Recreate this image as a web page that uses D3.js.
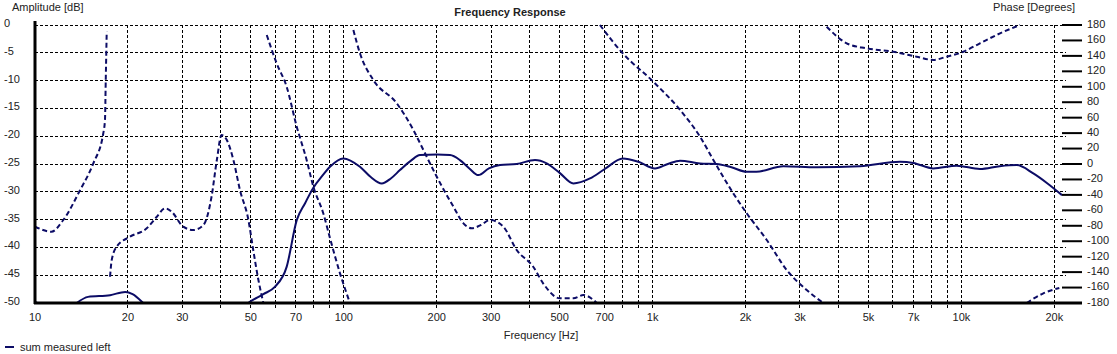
<!DOCTYPE html>
<html><head><meta charset="utf-8">
<script src="https://cdn.jsdelivr.net/npm/d3@7/dist/d3.min.js"></script>
<style>
body{margin:0;background:#fff;}
text{font-family:"Liberation Sans",Arial,sans-serif;font-size:11px;fill:#222;}
</style></head><body>
<svg id="c" width="1117" height="354"></svg>
<script>
// Amplitude (solid, left axis, dB) — [freq Hz, dB]
const ampFreq = [10, 11, 12, 13, 13.65, 14.85, 17.5, 19.6, 20.7, 22.4, 25, 30, 40, 49, 54.9, 59.8, 65.3, 70.4, 75, 79.6, 85, 90.2, 99.6, 112.8, 122, 132.7, 142, 152, 165, 176.5, 200, 220.8, 237.7, 255, 272.7, 295, 320.5, 363, 416, 454, 500, 554, 627, 700, 800, 900, 1018, 1120, 1227, 1424, 1613, 1800, 2017, 2168, 2650, 3399, 4695, 6326, 6988, 8110, 9654, 11481, 13300, 15098, 17090, 19000, 21170];
const ampDb   = [-49.8, -51, -52.5, -51, -50, -48.9, -48.6, -48.0, -48.4, -50, -53, -56, -55, -50, -48.4, -47.1, -43.5, -35.1, -32, -29.3, -27.2, -25.5, -24.0, -25.5, -27.3, -28.5, -27.6, -26.1, -24.4, -23.4, -23.3, -23.4, -24.3, -25.8, -27.0, -25.8, -25.2, -25.0, -24.3, -24.9, -26.6, -28.5, -27.6, -25.9, -24.0, -24.6, -25.8, -25.0, -24.4, -24.9, -25.0, -25.6, -26.4, -26.4, -25.4, -25.6, -25.4, -24.6, -24.8, -25.8, -25.3, -25.9, -25.4, -25.2, -26.7, -28.5, -30.6];

// Phase (dashed, right axis, degrees) — wrapped segments
const phaseSegFreq = [
  [10, 11.3, 12.35, 14.0, 15.45, 16.64, 16.85, 16.95, 17.07],
  [17.5, 17.72, 18.39, 20.3, 23.0, 24.8, 26.36, 27.7, 30.2, 32.55, 35.1, 37.3, 38.8, 40.2, 41.8, 43.9, 46.1, 49.1, 50.9, 52.9, 54.9],
  [56.3, 60.6, 65.3, 70.4, 75.8, 79.7, 85.8, 90.2, 97.2, 104.7],
  [107.4, 112.8, 124.6, 148.4, 168, 181, 200, 226.4, 244, 259.5, 278, 297.4, 328.6, 363, 410.5, 442, 501, 554, 597, 643, 660],
  [675, 800, 1005, 1227, 1424, 1573, 1825, 2017, 2342, 2718, 3155, 3571],
  [3661, 4250, 4934, 6017, 7161, 8110, 8962, 10146, 11481, 13336, 15480],
  [16270, 18420, 20750]
];
const phaseSegDeg = [
  [-81, -87.7, -72.5, -33.7, 0.9, 39.8, 57, 110, 171.3],
  [-146, -124.3, -107.1, -94.2, -83.3, -68.3, -57.4, -61.8, -81.2, -85.5, -79, -42.4, 5.2, 37.5, 31.1, 5.2, -33.7, -72.5, -111.4, -150.2, -180],
  [167, 130.4, 100.1, 48.3, 5.2, -29.4, -63.8, -96, -141.6, -180],
  [173.5, 143.4, 108.8, 78.6, 44, 18.1, -16.5, -55.3, -76.8, -83.3, -79, -72.5, -81.2, -111.4, -133, -154.5, -173.9, -173.9, -169.7, -176, -180],
  [180, 143.4, 106.6, 70, 35.4, 5.2, -38, -63.8, -98.4, -137.3, -163.2, -180],
  [177.8, 156.3, 149.8, 145.4, 139, 134.7, 139, 145.4, 156.3, 169.2, 180],
  [-180, -167.5, -160.5]
];

const gridFreqs = [20,30,40,50,60,70,80,90,100,200,300,400,500,600,700,800,900,1000,2000,3000,4000,5000,6000,7000,8000,9000,10000,20000];
const xTickVals = [10,20,30,50,70,100,200,300,500,700,1000,2000,3000,5000,7000,10000,20000];
const xTickLabels = ["10","20","30","50","70","100","200","300","500","700","1k","2k","3k","5k","7k","10k","20k"];
const dbTicks = [0,-5,-10,-15,-20,-25,-30,-35,-40,-45,-50];
const phaseTicks = [180,160,140,120,100,80,60,40,20,0,-20,-40,-60,-80,-100,-120,-140,-160,-180];

const col = "#0c0c66";
const svg = d3.select("#c");
const L = 35, R = 1062, T = 25, B = 303;
const x = d3.scaleLog().domain([10, 21170]).range([L, R]);
const y = d3.scaleLinear().domain([-50, 0]).range([B, T]);
const yp = d3.scaleLinear().domain([-180, 180]).range([B, T]);

// horizontal grid
svg.append("g").selectAll("line").data(dbTicks).join("line")
  .attr("x1", L).attr("x2", 1066).attr("y1", d => y(d)).attr("y2", d => y(d))
  .attr("stroke", "#000").attr("stroke-width", 1).attr("stroke-dasharray", "3,2")
  .attr("shape-rendering", "crispEdges");
// vertical grid
svg.append("g").selectAll("line").data(gridFreqs).join("line")
  .attr("x1", d => x(d)).attr("x2", d => x(d)).attr("y1", T).attr("y2", B + 5)
  .attr("stroke", "#000").attr("stroke-width", 1).attr("stroke-dasharray", "3,2")
  .attr("shape-rendering", "crispEdges");

// clip
svg.append("clipPath").attr("id", "pc").append("rect")
  .attr("x", L).attr("y", T - 2).attr("width", R - L).attr("height", B - T + 2);

const plot = svg.append("g").attr("clip-path", "url(#pc)");
const ampData = ampFreq.map((f, i) => [f, ampDb[i]]);
plot.append("path").datum(ampData)
  .attr("d", d3.line().x(d => x(d[0])).y(d => y(d[1])).curve(d3.curveMonotoneX))
  .attr("fill", "none").attr("stroke", col).attr("stroke-width", 2);

phaseSegFreq.forEach((fs, k) => {
  const data = fs.map((f, i) => [f, phaseSegDeg[k][i]]);
  plot.append("path").datum(data)
    .attr("d", d3.line().x(d => x(d[0])).y(d => yp(d[1])).curve(d3.curveMonotoneX))
    .attr("fill", "none").attr("stroke", col).attr("stroke-width", 2)
    .attr("stroke-dasharray", "5,3");
});

// axes lines
svg.append("line").attr("x1", L).attr("x2", L).attr("y1", 21).attr("y2", B + 1)
  .attr("stroke", "#000").attr("stroke-width", 3);
svg.append("line").attr("x1", L - 1).attr("x2", 1082).attr("y1", B).attr("y2", B)
  .attr("stroke", "#000").attr("stroke-width", 3);

// left labels
svg.append("g").selectAll("text").data(dbTicks).join("text")
  .attr("x", 4).attr("y", d => y(d) - 1).attr("dominant-baseline", "middle")
  .text(d => d);
// right ticks
svg.append("g").selectAll("line").data(phaseTicks).join("line")
  .attr("x1", 1062).attr("x2", 1082).attr("y1", d => yp(d)).attr("y2", d => yp(d))
  .attr("stroke", "#000").attr("stroke-width", 2);
svg.append("g").selectAll("text").data(phaseTicks).join("text")
  .attr("x", 1087).attr("y", d => yp(d)).attr("dominant-baseline", "middle")
  .text(d => d);
// bottom labels
svg.append("g").selectAll("text").data(xTickVals).join("text")
  .attr("x", d => x(d)).attr("y", 321).attr("text-anchor", "middle")
  .text((d, i) => xTickLabels[i]);

svg.append("text").attr("x", 12).attr("y", 11).text("Amplitude [dB]");
svg.append("text").attr("x", 1075).attr("y", 11).attr("text-anchor", "end").text("Phase [Degrees]");
svg.append("text").attr("x", 510).attr("y", 16).attr("text-anchor", "middle")
  .attr("font-weight", "bold").style("font-weight", "bold").text("Frequency Response");
svg.append("text").attr("x", 541).attr("y", 339).attr("text-anchor", "middle").text("Frequency [Hz]");

// legend
svg.append("line").attr("x1", 5).attr("x2", 14).attr("y1", 347).attr("y2", 347)
  .attr("stroke", col).attr("stroke-width", 2);
svg.append("text").attr("x", 20).attr("y", 351).text("sum measured left");
</script></body></html>
